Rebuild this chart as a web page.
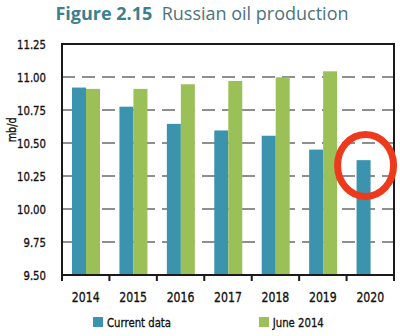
<!DOCTYPE html>
<html>
<head>
<meta charset="utf-8">
<script src="https://cdn.jsdelivr.net/npm/d3@7"></script>
<style>
  body { margin: 0; background: #fff; }
  svg { display: block; }
  svg text.tick-label {
    font-family: 'DejaVu Sans', sans-serif;
    font-size: 13px;
    fill: #111;
    stroke: #111;
    stroke-width: 0.35px;
    transform-box: fill-box;
    transform: scaleX(0.78);
  }
</style>
</head>
<body>
<div id="chart"></div>
<script>
// RUSSIAN OIL PRODUCTION - grouped bars

// DATA
let years = ['2014', '2015', '2016', '2017', '2018', '2019', '2020'];
let currentData = [10.92, 10.775, 10.645, 10.595, 10.555, 10.45, 10.37];
let june2014 = [10.91, 10.91, 10.945, 10.97, 10.998, 11.043, null];
let yTicks = [9.5, 9.75, 10.0, 10.25, 10.5, 10.75, 11.0, 11.25];
let seriesNames = ['Current data', 'June 2014'];

// CONST and GLOBALS
let width = 400,
  height = 336,
  margin = { top: 44, bottom: 61, left: 62, right: 6 };

let colors = ['#3b93ae', '#9cc058'];

let svg = d3
  .select('#chart')
  .append('svg')
  .attr('width', width)
  .attr('height', height);

let xScale = d3
  .scaleBand()
  .domain(years)
  .range([margin.left, width - margin.right]);

// two bars per year, sitting a bit left of the band centre
let xInner = d3
  .scaleBand()
  .domain([0, 1])
  .range([10, 38]);

let yScale = d3
  .scaleLinear()
  .domain([9.5, 11.25])
  .range([height - margin.bottom, margin.top]);

// title
let title = svg
  .append('text')
  .attr('x', 202)
  .attr('y', 20)
  .attr('text-anchor', 'middle')
  .style('font-family', '"Open Sans", Lato, sans-serif')
  .style('font-size', '18px');
title.append('tspan').attr('font-weight', 'bold').attr('fill', '#3b7f90').text('Figure 2.15');
title.append('tspan').attr('fill', '#4b7380').text('\u00a0 Russian oil production');

// dashed grid lines behind the bars
svg
  .append('g')
  .selectAll('line')
  .data(yTicks.filter(d => d > 9.5 && d < 11.25))
  .join('line')
  .attr('x1', margin.left)
  .attr('x2', width - margin.right)
  .attr('y1', d => yScale(d))
  .attr('y2', d => yScale(d))
  .attr('stroke', '#8f8f8f')
  .attr('stroke-width', 2)
  .attr('stroke-dasharray', '13,7');

// bars
let rows = years.map((y, i) => ({ year: y, values: [currentData[i], june2014[i]] }));

svg
  .append('g')
  .selectAll('g')
  .data(rows)
  .join('g')
  .attr('transform', d => `translate(${xScale(d.year)},0)`)
  .selectAll('rect')
  .data(d => d.values.map((v, k) => ({ k: k, v: v })).filter(e => e.v != null))
  .join('rect')
  .attr('x', d => xInner(d.k))
  .attr('width', xInner.bandwidth())
  .attr('y', d => yScale(d.v))
  .attr('height', d => yScale(9.5) - yScale(d.v))
  .attr('fill', d => colors[d.k]);

// frame
svg
  .append('rect')
  .attr('x', margin.left)
  .attr('y', margin.top)
  .attr('width', width - margin.left - margin.right)
  .attr('height', height - margin.top - margin.bottom)
  .attr('fill', 'none')
  .attr('stroke', '#1a1a1a')
  .attr('stroke-width', 2);

// AXES
let yAxis = d3
  .axisLeft(yScale)
  .tickValues(yTicks)
  .tickSize(0)
  .tickPadding(16)
  .tickFormat(d3.format('.2f'));

svg
  .append('g')
  .attr('transform', `translate(${margin.left},0)`)
  .call(yAxis)
  .call(g => g.select('.domain').remove())
  .selectAll('text')
  .attr('class', 'tick-label')
  .style('transform-origin', 'right center');

// x ticks sit on the band edges, labels in the middle
let edges = years.map(d => xScale(d)).concat([width - margin.right]);
svg
  .append('g')
  .selectAll('line')
  .data(edges)
  .join('line')
  .attr('x1', d => d)
  .attr('x2', d => d)
  .attr('y1', yScale(9.5))
  .attr('y2', yScale(9.5) + 6)
  .attr('stroke', '#1a1a1a')
  .attr('stroke-width', 2);

svg
  .append('g')
  .selectAll('text')
  .data(years)
  .join('text')
  .attr('class', 'tick-label')
  .attr('x', d => xScale(d) + xScale.bandwidth() / 2)
  .attr('y', yScale(9.5) + 27)
  .attr('text-anchor', 'middle')
  .style('font-size', '14px')
  .style('transform-origin', 'center')
  .text(d => d);

// y axis title (rotated inside a group so the text can still be narrowed)
svg
  .append('g')
  .attr('transform', `translate(16,${yScale(10.6)}) rotate(-90)`)
  .append('text')
  .attr('class', 'tick-label')
  .attr('text-anchor', 'middle')
  .style('font-size', '12.5px')
  .style('transform-origin', 'center')
  .text('mb/d');

// legend
let legendX = [93, 259];
let legend = svg
  .append('g')
  .selectAll('g')
  .data(seriesNames)
  .join('g')
  .attr('transform', (d, i) => `translate(${legendX[i]},${height - 19})`);

legend
  .append('rect')
  .attr('width', 10)
  .attr('height', 10)
  .attr('fill', (d, i) => colors[i]);

legend
  .append('text')
  .attr('class', 'tick-label')
  .attr('x', 14)
  .attr('y', 10)
  .style('font-size', '13px')
  .style('transform-origin', 'left center')
  .text(d => d);

// red highlight ring round the 2020 bar
svg
  .append('ellipse')
  .attr('cx', xScale('2020') + 19)
  .attr('cy', yScale(10.33))
  .attr('rx', 28)
  .attr('ry', 31)
  .attr('fill', 'none')
  .attr('stroke', '#ee3a1c')
  .attr('stroke-width', 7);
</script>
</body>
</html>
